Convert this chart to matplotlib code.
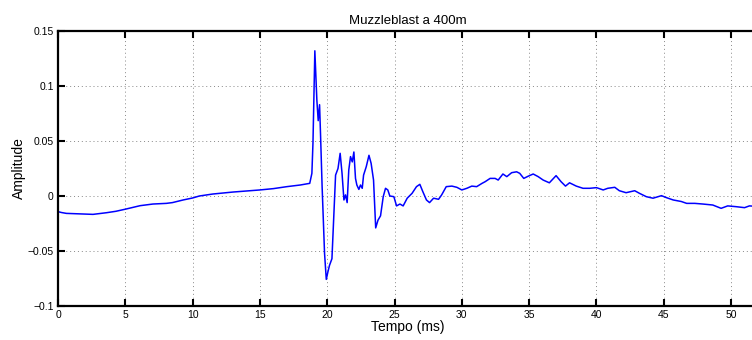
import numpy as np
import matplotlib
matplotlib.use("Agg")
import matplotlib.pyplot as plt

# muzzle blast recording, time in ms
t_ms = [
    0.0, 0.25, 0.62, 2.1, 2.6, 3.6, 4.3, 5.0, 6.1, 7.05, 8.05, 8.5, 9.3, 10.0,
    10.5, 11.5, 12.5, 13.0, 14.0, 15.0, 16.0, 17.0, 18.0, 18.7, 18.86, 18.94,
    19.08, 19.23, 19.33, 19.43, 19.5, 19.62, 19.8, 19.93, 20.05, 20.17, 20.35,
    20.5, 20.62, 20.8, 20.96, 21.1, 21.24, 21.36, 21.48, 21.6, 21.73, 21.86,
    21.98, 22.1, 22.2, 22.35, 22.47, 22.6, 22.7, 22.9, 23.1, 23.26, 23.44,
    23.6, 23.77, 23.96, 24.16, 24.33, 24.5, 24.65, 24.95, 25.15, 25.4, 25.64,
    25.94, 26.3, 26.63, 26.88, 27.1, 27.37, 27.6, 27.9, 28.27, 28.5, 28.84,
    29.26, 29.63, 30.0, 30.37, 30.74, 31.1, 31.5, 31.73, 32.1, 32.47, 32.7,
    33.05, 33.34, 33.7, 34.07, 34.3, 34.6, 34.93, 35.3, 35.67, 36.04, 36.5,
    37.0, 37.37, 37.7, 38.0, 38.5, 39.0, 39.5, 40.0, 40.5, 40.84, 41.36, 41.7,
    42.2, 42.84, 43.2, 43.7, 44.2, 44.83, 45.2, 45.7, 46.3, 46.7, 47.3, 47.9,
    48.64, 49.26, 49.75, 50.37, 51.0, 51.36, 52.0,
]
amplitude = [
    -0.0142, -0.015, -0.0158, -0.0164, -0.0167, -0.0152, -0.0139, -0.012,
    -0.0088, -0.0073, -0.0067, -0.006, -0.0036, -0.0018, 0.0, 0.0018, 0.003,
    0.0036, 0.0045, 0.0055, 0.0067, 0.0085, 0.010, 0.0115, 0.0206, 0.048,
    0.132, 0.087, 0.0685, 0.083, 0.057, 0.0085, -0.052, -0.0758, -0.069,
    -0.063, -0.057, -0.016, 0.019, 0.025, 0.0388, 0.0206, -0.0036, 0.001,
    -0.006, 0.0236, 0.0358, 0.031, 0.040, 0.016, 0.010, 0.006, 0.010, 0.007,
    0.019, 0.0267, 0.037, 0.0297, 0.0145, -0.029, -0.022, -0.018, -0.0006,
    0.007, 0.0055, 0.0, -0.0006, -0.009, -0.0073, -0.009, -0.002, 0.0024,
    0.0085, 0.0106, 0.004, -0.0036, -0.006, -0.002, -0.003, 0.001, 0.0085,
    0.009, 0.0079, 0.0055, 0.007, 0.009, 0.0085, 0.0115, 0.013, 0.016, 0.016,
    0.0145, 0.020, 0.0176, 0.0212, 0.022, 0.0206, 0.016, 0.018, 0.020, 0.0176,
    0.0145, 0.012, 0.0185, 0.013, 0.009, 0.012, 0.009, 0.007, 0.007, 0.0076,
    0.0055, 0.007, 0.0079, 0.0048, 0.003, 0.0048, 0.0024, -0.0006, -0.002,
    0.0003, -0.0015, -0.0036, -0.005, -0.0067, -0.0067, -0.0073, -0.0082,
    -0.0112, -0.009, -0.0097, -0.0106, -0.009, -0.0095,
]

x_ticks = [0, 5, 10, 15, 20, 25, 30, 35, 40, 45, 50]
y_ticks = [-0.1, -0.05, 0, 0.05, 0.1, 0.15]
y_tick_labels = ["\u22120.1", "\u22120.05", "0", "0.05", "0.1", "0.15"]

plt.rcParams["font.family"] = ["Liberation Sans", "DejaVu Sans"]

fig = plt.figure(figsize=(7.52, 3.40), dpi=100)
# axes run a few pixels past the right edge of the figure
ax = fig.add_axes([58 / 752, 34 / 340, 700 / 752, 275 / 340])

ax.plot(t_ms, amplitude, color="#0000ff", linewidth=1.1)

ax.set_xlim(0, 52)
ax.set_ylim(-0.1, 0.15)
ax.set_xticks(x_ticks)
ax.set_xticklabels([str(v) for v in x_ticks])
ax.set_yticks(y_ticks)
ax.set_yticklabels(y_tick_labels)

ax.grid(True, linestyle=(0, (1, 3)), color="#888888", linewidth=0.7)
ax.tick_params(direction="in", length=5, width=1.5, labelsize=7.5,
               top=True, right=False, pad=3)
for side in ["left", "bottom", "top"]:
    ax.spines[side].set_linewidth(1.6)
ax.spines["right"].set_visible(False)

ax.set_title("Muzzleblast a 400m", fontsize=9.5, pad=5)
ax.set_xlabel("Tempo (ms)", fontsize=10, labelpad=0)
ax.set_ylabel("Amplitude", fontsize=10, labelpad=1)

fig.savefig("out.png", dpi=100)
